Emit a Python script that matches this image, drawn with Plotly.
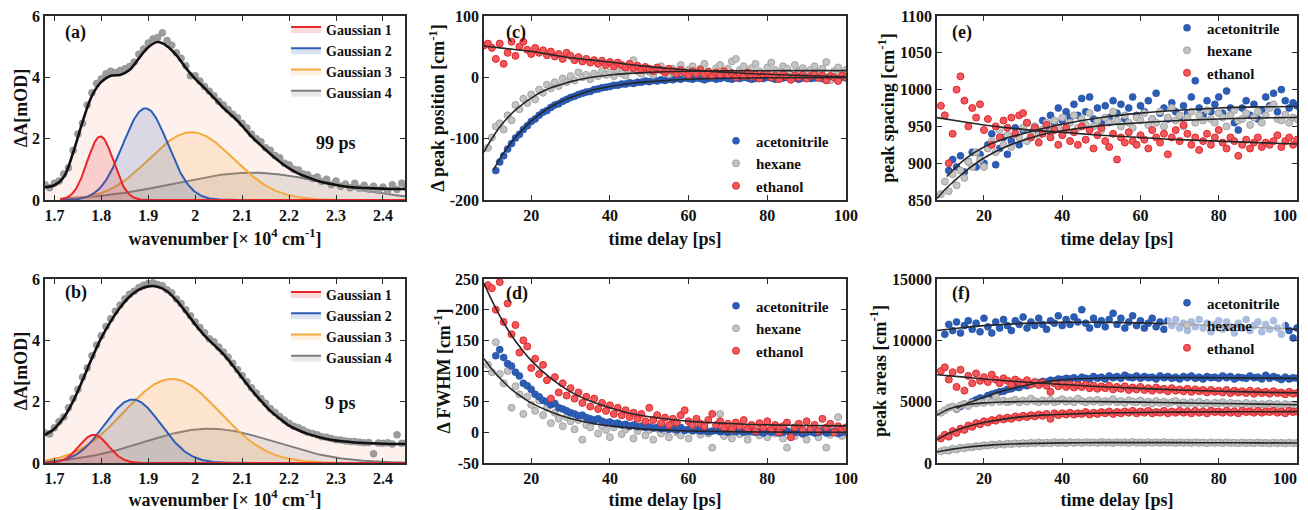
import numpy as np
import plotly.graph_objects as go

# ---------------------------------------------------------------- data
# (a) 99 ps and (b) 9 ps transient spectra, wavenumber in 1e4 cm^-1
wn = [round(1.68 + 0.01 * i, 2) for i in range(78)]          # 1.68 .. 2.45
wn_fit = [round(1.68 + 0.02 * i, 2) for i in range(40)]      # 1.68 .. 2.46

a_data = [0.50, 0.40, 0.55, 0.62, 0.85, 1.05, 1.62, 2.15, 2.50, 3.10,
          3.50, 3.80, 3.95, 4.12, 4.20, 4.15, 4.22, 4.28, 4.35, 4.50,
          4.75, 4.92, 5.12, 5.25, 5.30, 5.45, 5.20, 5.05, 4.80, 4.62,
          4.38, 4.05, 4.05, 3.88, 3.70, 3.55, 3.40, 3.22, 3.10, 2.95,
          2.80, 2.68, 2.50, 2.35, 2.15, 2.00, 1.90, 1.70, 1.62, 1.45,
          1.38, 1.20, 1.15, 1.00, 0.98, 0.85, 0.82, 0.70, 0.75, 0.60,
          0.68, 0.50, 0.62, 0.45, 0.52, 0.40, 0.55, 0.38, 0.48, 0.35,
          0.45, 0.32, 0.42, 0.30, 0.50, 0.34, 0.55, 0.40]
a_fit = [0.42, 0.48, 0.75, 1.55, 2.55, 3.40, 3.85, 4.05, 4.08, 4.24,
         4.62, 4.98, 5.15, 5.02, 4.72, 4.31, 3.95, 3.65, 3.33, 3.00,
         2.73, 2.42, 2.07, 1.78, 1.50, 1.25, 1.03, 0.86, 0.74, 0.63,
         0.55, 0.49, 0.44, 0.41, 0.39, 0.38, 0.37, 0.36, 0.36, 0.36]
b_data = [0.98, 0.95, 1.15, 1.35, 1.50, 1.80, 2.10, 2.40, 2.80, 3.10,
          3.50, 3.85, 4.15, 4.45, 4.70, 4.95, 5.15, 5.35, 5.50, 5.60,
          5.72, 5.80, 5.85, 5.88, 5.82, 5.78, 5.65, 5.55, 5.35, 5.20,
          5.00, 4.80, 4.60, 4.42, 4.25, 4.05, 3.95, 3.78, 3.62, 3.45,
          3.25, 3.05, 2.85, 2.65, 2.45, 2.28, 2.10, 1.95, 1.78, 1.65,
          1.52, 1.40, 1.30, 1.20, 1.15, 1.08, 1.00, 0.96, 0.92, 0.86,
          0.84, 0.80, 0.76, 0.75, 0.72, 0.70, 0.70, 0.68, 0.66, 0.67,
          0.30, 0.65, 0.64, 0.66, 0.62, 0.92, 0.64, 0.66]
b_fit = [0.92, 1.12, 1.48, 2.02, 2.70, 3.42, 4.08, 4.62, 5.07, 5.42,
         5.65, 5.76, 5.75, 5.60, 5.30, 4.92, 4.52, 4.15, 3.85, 3.55,
         3.18, 2.78, 2.38, 2.03, 1.70, 1.45, 1.22, 1.07, 0.95, 0.86,
         0.78, 0.73, 0.70, 0.67, 0.65, 0.64, 0.63, 0.62, 0.62, 0.62]

gauss_names = ["Gaussian 1", "Gaussian 2", "Gaussian 3", "Gaussian 4"]
# (centre, amplitude, sigma) of each fitted Gaussian component
a_centre = [1.798, 1.894, 1.992, 2.120]
a_amp = [2.07, 2.99, 2.21, 0.89]
a_sigma = [0.028, 0.048, 0.090, 0.165]
b_centre = [1.784, 1.867, 1.950, 2.030]
b_amp = [0.92, 2.07, 2.74, 1.12]
b_sigma = [0.031, 0.060, 0.102, 0.140]

# (c)-(f) time traces, time delay in ps
t8 = list(range(8, 101))
t9 = list(range(9, 101))
t10 = list(range(10, 101))
t11 = list(range(11, 101))
t13 = list(range(13, 101))

c_acn = [-152, -138, -128, -117, -108, -99, -93, -85, -79, -72,
         -68, -62, -57, -54, -49, -45, -43, -39, -36, -33,
         -31, -28, -26, -24, -23, -20, -19, -17, -16, -15,
         -13, -13, -11, -11, -9, -10, -8, -8, -6, -7,
         -5, -6, -4, -5, -3, -4, -2, -3, -1, -2,
         -3, -1, -2, -4, -2, -1, -3, -2, 0, -2,
         -3, -1, -2, 0, -1, -3, -2, -1, -2, 0,
         -1, -3, -2, -1, 0, -2, -1, -3, -1, 0,
         -2, -1, 0, -2, -1, 0, -1, -2, 0, -1]
c_hex = [-115, -98,
         -80, -75, -85, -62, -70, -45, -52, -35, -42, -28,
         -36, -20, -25, -12, -18, -8, -14, -2, -8, 2,
         -5, 8, 0, 4, -3, 6, 2, 10, 4, 8,
         2, 12, 6, 3, 14, 28, 10, 6, 16, 9,
         4, 12, 18, 8, 5, 14, 10, 20, 7, 12,
         18, 8, 14, 22, 10, 6, 15, 20, 9, 14,
         26, 30, 12, 18, 8, 15, 22, 10, 5, 16,
         24, 12, 8, 18, 14, 4, 20, 10, 15, 6,
         12, 18, 8, 14, 25, -5, 10, 16, 6, 12]
c_eth = [52, 55, 48,
         30, 55, 22, 40, 58, 35, 50, 58, 45, 38,
         48, 40, 44, 36, 42, 34, 38, 30, 40, 35,
         28, 33, 26, 30, 24, 28, 22, 27, 20, 25,
         18, 24, 20, 16, 22, 15, 19, 12, 17, 14,
         10, 16, 12, 8, 14, 10, 6, 12, 8, 4,
         10, 6, 12, 5, 9, 2, 8, 4, 10, 3,
         7, 0, 6, 2, 8, 1, 5, -2, 4, 6,
         0, 3, -3, 5, 1, -4, 3, 0, 4, -2,
         2, 5, -1, 3, -5, 2, 0, -6, 3, 0]
c_fit_acn_t = [10.5, 12, 14, 16, 18, 20, 22, 25, 28, 30, 35, 40, 45, 50, 55, 60, 70, 80, 90, 100]
c_fit_acn = [-150, -133, -114, -98, -84, -71, -61, -48, -38, -33, -22, -15, -10, -7, -4.7, -3.2, -1.5, -0.8, -0.4, -0.2]
c_fit_hex_t = [8, 9, 10, 12, 14, 16, 18, 20, 22, 25, 28, 30, 35, 40, 45, 50, 60, 70, 80, 90, 100]
c_fit_hex = [-122, -110, -100, -81, -66, -53, -43, -34, -26, -17, -11, -7, -0.4, 3.7, 6.4, 8.1, 9.8, 10.5, 10.8, 10.9, 11]
c_fit_eth_t = [8, 10, 15, 20, 25, 30, 35, 40, 45, 50, 55, 60, 65, 70, 75, 80, 85, 90, 95, 100]
c_fit_eth = [51, 49.5, 46, 42, 37, 32, 28.5, 25, 21, 17.5, 14.5, 12, 10, 8, 6.3, 5, 3.8, 2.8, 1.8, 1]

d_acn = [125, 135, 122, 112, 108, 98, 92, 80, 76, 70,
         62, 58, 52, 50, 45, 47, 40, 38, 35, 32,
         30, 27, 28, 24, 22, 20, 22, 18, 16, 17,
         14, 15, 12, 13, 10, 12, 9, 10, 8, 9,
         7, 8, 6, 7, 5, 6, 4, 8, 3, 5,
         3, 4, 2, 3, 1, 2, 3, 1, 2, 0,
         2, 1, 3, 0, 1, 2, 0, 1, -1, 2,
         0, 1, -1, 0, 2, -1, 0, 1, -2, 0,
         1, -1, 0, 2, -1, 0, 1, -2, 0, 1]
d_hex = [110, 98,
         147, 95, 80, 100, 40, 75, 62, 30, 58, 45,
         35, 52, 28, 40, 15, 32, 22, 10, 25, 18,
         5, 20, -12, 12, 8, 18, -2, 10, 4, -8,
         8, 14, -3, 5, 10, -10, 2, 8, -5, 4,
         -12, 6, -2, 3, -8, 10, 0, -5, 4, -10,
         2, 6, -4, 8, -2, -25, 5, 30, -6, 2,
         -10, 4, -3, 8, -12, 0, 6, -5, 2, -8,
         4, -2, 8, -10, -25, 2, -6, 5, -3, -12,
         4, 0, -8, 6, -25, -4, 3, 25, -6, 2]
d_eth = [240, 235,
         200, 245, 180, 210, 160, 175, 130, 150, 140, 105,
         120, 95, 110, 85, 55, 90, 65, 80, 60, 72,
         55, 65, 48, 58, 42, 55, 38, 48, 35, 44,
         30, 40, 28, 36, 25, 32, 22, 30, 18, 40,
         20, 28, 15, 24, 12, 22, 16, 28, 36, 18,
         12, 22, 14, 10, 20, 30, 12, 18, 8, 14,
         5, 16, 10, 20, 6, 12, 2, 15, 8, 18,
         5, 12, 0, 10, 16, -8, 8, 14, 4, 18,
         6, 12, 2, 22, 8, 14, 0, 10, 4, 8]
d_fit_t = [8, 10, 12, 15, 18, 20, 25, 30, 35, 40, 45, 50, 60, 70, 80, 90, 100]
d_fit_eth = [243, 215, 190, 158, 132, 117, 88, 66, 51, 40, 31, 25.5, 18, 14.3, 12.2, 11.2, 10.6]
d_fit_hex = [120, 103, 88.5, 70, 56, 48, 33, 22.5, 15.3, 10.5, 7.2, 4.9, 2.3, 1.1, 0.5, 0.2, 0.1]

e_acn = [890, 905, 895, 910, 888, 902, 915, 895, 912, 900,
         925, 940, 898, 920, 935, 912, 930, 948, 925, 945,
         955, 935, 950, 942, 958, 948, 965, 955, 975, 958,
         970, 962, 980, 965, 988, 970, 990, 960, 975, 955,
         978, 962, 985, 968, 980, 960, 975, 990, 965, 978,
         970, 985, 960, 995, 968, 975, 960, 982, 970, 962,
         978, 968, 990, 1012, 975, 965, 985, 970, 980, 990,
         968, 998, 975, 955, 945, 975, 985, 965, 980, 960,
         972, 990, 978, 995, 970, 1000, 985, 975, 982, 978]
e_hex = [858, 875,
         862, 885, 870, 890, 880, 902, 895, 915, 905, 895,
         920, 930, 915, 945, 925, 938, 922, 940, 935, 948,
         930, 942, 950, 938, 946, 955, 942, 958, 948, 962,
         945, 955, 965, 948, 960, 952, 968, 950, 958, 945,
         962, 955, 970, 958, 950, 965, 955, 948, 962, 958,
         968, 952, 960, 955, 970, 950, 962, 975, 958, 965,
         950, 962, 970, 955, 965, 958, 972, 960, 955, 968,
         962, 950, 965, 972, 958, 960, 968, 952, 962, 970,
         955, 965, 975, 980, 960, 958, 966, 955, 962, 960]
e_eth = [978, 965,
         900, 940, 1000, 1018, 985, 950, 975, 962, 980, 945,
         960, 925, 950, 935, 958, 948, 962, 940, 965, 968,
         955, 935, 948, 928, 940, 952, 935, 945, 925, 938,
         948, 930, 942, 925, 950, 932, 945, 920, 938, 948,
         930, 922, 940, 905, 935, 928, 942, 930, 925, 938,
         932, 920, 945, 935, 928, 940, 912, 935, 945, 930,
         952, 940, 925, 935, 918, 930, 940, 925, 935, 945,
         928, 920, 935, 930, 910, 925, 932, 920, 928, 935,
         922, 928, 925, 930, 938, 922, 930, 935, 925, 932]
e_fit_acn_t = [10.5, 15, 20, 25, 30, 35, 40, 50, 60, 70, 80, 90, 100]
e_fit_acn = [882, 905, 922, 933, 940, 947, 953, 962, 968, 972, 975, 976.5, 977]
e_fit_hex_t = [8, 10, 12, 15, 20, 25, 30, 35, 40, 50, 60, 70, 80, 90, 100]
e_fit_hex = [852, 864, 874, 888, 907, 921, 931, 939, 944, 951, 955, 958, 960, 961.5, 962]
e_fit_eth_t = [8, 15, 20, 30, 40, 50, 60, 70, 80, 90, 100]
e_fit_eth = [962, 956, 952, 946, 942, 938, 935, 932, 930, 928, 926]

f_acn_hi = [10500,
            11300, 10800, 11500, 10600, 11200, 11600, 10900, 11400, 10700, 11800,
            11100, 10600, 11500, 11000, 11700, 11200, 10800, 11600, 11300, 11900,
            11000, 11500, 11200, 11800, 11300, 10900, 11600, 11400, 12000, 11200,
            11700, 11300, 11900, 11500, 12500, 11400, 11000, 11800, 11300, 11600,
            11100, 11700, 12200, 11300, 11800, 11000, 11500, 12000, 11200, 11600,
            11000, 11400, 11800, 11100, 11500, 10900, 11600, 11200, 11700, 11000,
            11400, 10800, 11500, 11100, 11700, 11000, 11400, 10700, 11300, 11600,
            10900, 11500, 11100, 10600, 11400, 11000, 11700, 10800, 11200, 11500,
            10700, 11300, 10900, 11600, 11000, 10500, 11200, 10800, 10200, 11000]
f_acn_lo = [4400, 4600, 4800, 4700, 5000, 5150, 5300, 5250,
            5500, 5600, 5700, 5800, 5850, 6000, 6050, 6200, 6150, 6350,
            6300, 6450, 6500, 6550, 6650, 6600, 6750, 6700, 6850, 6800,
            6900, 6850, 6950, 6800, 7000, 6900, 6850, 7050, 6900, 7000,
            6850, 7100, 6950, 7050, 6900, 7150, 7000, 6950, 7100, 6900,
            7050, 6950, 7000, 6850, 7100, 6950, 7050, 6900, 7000, 6850,
            7050, 6950, 7100, 6900, 7000, 6850, 7050, 6950, 7000, 6900,
            7100, 6950, 7050, 6850, 7000, 6950, 6900, 7100, 6950, 7000,
            6850, 7150, 6900, 7050, 6950, 6800, 7000, 6850, 6950, 6900]
f_eth_hi = [7500, 7800,
            6800, 7400, 6200, 7600, 5900, 7100, 6500, 7300, 6700, 7000,
            6600, 7200, 6800, 6500, 6900, 6700, 6400, 6800, 6600, 6500,
            6750, 6400, 6600, 6350, 6550, 6300, 5800, 6500, 6250, 6450,
            6200, 6400, 6150, 6350, 6200, 6400, 6100, 6300, 6050, 6250,
            6100, 6300, 6000, 6200, 6050, 6250, 5950, 6150, 6000, 6200,
            5950, 6100, 5900, 6150, 5950, 6050, 5850, 6100, 5900, 6000,
            5850, 6050, 5800, 6000, 5850, 5950, 5750, 5950, 5800, 5900,
            5750, 5950, 5700, 5900, 5750, 5850, 5700, 5900, 5650, 5850,
            5700, 5800, 5650, 5850, 5700, 5750, 5600, 5800, 5650, 5700]
f_hex_hi = [4100, 4300,
            4500, 4600, 4450, 4700, 4800, 4650, 4900, 4850, 5000, 4900,
            5100, 4950, 5400, 5000, 5100, 4950, 5050, 5150, 4950, 5100,
            5000, 5250, 5050, 4950, 5100, 5000, 5150, 4950, 5050, 5200,
            5000, 5100, 4950, 5250, 5050, 4950, 5100, 5000, 5150, 4950,
            5050, 5000, 5200, 4950, 5050, 4900, 5100, 5000, 4950, 5100,
            4900, 5000, 4850, 5050, 4900, 5000, 4850, 4950, 5050, 4850,
            4950, 4800, 4950, 4850, 5000, 4800, 4900, 4750, 4900, 4850,
            4950, 4750, 4900, 4800, 4850, 4700, 4900, 4750, 4850, 4700,
            4800, 4750, 4850, 4700, 4800, 4650, 4800, 4700, 4750, 4650]
f_eth_lo = [2000, 2300,
            2150, 2600, 2450, 2800, 2700, 3050, 2950, 3250, 3150, 3400,
            3300, 3500, 3450, 3650, 3550, 3700, 3600, 3800, 3700, 3850,
            3750, 3900, 3800, 3950, 3850, 4000, 3600, 4050, 3900, 4050,
            3950, 4100, 3950, 4050, 4000, 4150, 3950, 4100, 4000, 4150,
            4050, 4200, 4000, 4150, 4050, 4200, 4100, 4250, 4050, 4200,
            4100, 4250, 4050, 4150, 4100, 4250, 4050, 4200, 4100, 4250,
            4100, 4200, 4050, 4250, 4100, 4200, 4050, 4250, 4150, 4200,
            4100, 4250, 4100, 4200, 4050, 4250, 4150, 4200, 4100, 4250,
            4100, 4200, 4150, 4250, 4100, 4200, 4050, 4250, 4150, 4200]
f_hex_lo = [950, 1050,
            1000, 1150, 1100, 1250, 1200, 1300, 1280, 1380, 1350, 1450,
            1420, 1500, 1460, 1540, 1500, 1580, 1530, 1600, 1560, 1620,
            1580, 1650, 1600, 1670, 1610, 1660, 1620, 1690, 1630, 1680,
            1620, 1700, 1640, 1690, 1630, 1700, 1650, 1680, 1640, 1710,
            1650, 1690, 1630, 1700, 1660, 1690, 1640, 1710, 1650, 1680,
            1630, 1700, 1650, 1690, 1640, 1700, 1650, 1680, 1630, 1690,
            1640, 1680, 1630, 1690, 1640, 1670, 1620, 1680, 1630, 1670,
            1620, 1680, 1630, 1660, 1610, 1670, 1620, 1660, 1610, 1670,
            1620, 1650, 1600, 1660, 1610, 1650, 1600, 1660, 1610, 1640]
f_fit_acn_hi_t = [8, 15, 20, 30, 40, 50, 60, 70, 80, 90, 100]
f_fit_acn_hi = [10800, 11050, 11200, 11380, 11460, 11470, 11420, 11330, 11200, 11050, 10900]
f_fit_acn_lo_t = [13, 15, 20, 25, 30, 35, 40, 50, 60, 70, 80, 90, 100]
f_fit_acn_lo = [4450, 4750, 5350, 5900, 6280, 6580, 6780, 6930, 6970, 6970, 6950, 6930, 6900]
f_fit_eth_hi_t = [8, 15, 20, 30, 40, 50, 60, 70, 80, 90, 100]
f_fit_eth_hi = [7200, 7000, 6850, 6600, 6400, 6220, 6080, 5950, 5850, 5780, 5720]
f_fit_hex_hi_t = [8, 10, 12, 15, 20, 25, 30, 40, 50, 60, 70, 80, 90, 100]
f_fit_hex_hi = [3900, 4250, 4500, 4720, 4900, 4980, 5010, 5020, 5000, 4960, 4900, 4850, 4800, 4750]
f_fit_eth_lo_t = [8, 10, 12, 15, 20, 25, 30, 35, 40, 50, 60, 70, 80, 90, 100]
f_fit_eth_lo = [1900, 2250, 2550, 2900, 3300, 3580, 3780, 3900, 3980, 4070, 4120, 4150, 4170, 4180, 4190]
f_fit_hex_lo_t = [8, 10, 12, 15, 20, 25, 30, 40, 50, 60, 70, 80, 90, 100]
f_fit_hex_lo = [900, 1020, 1130, 1260, 1420, 1520, 1580, 1640, 1660, 1665, 1660, 1650, 1640, 1630]

solvents = ["acetonitrile", "hexane", "ethanol"]
wn_ticks = [1.7, 1.8, 1.9, 2.0, 2.1, 2.2, 2.3, 2.4]
t_ticks = [20, 40, 60, 80, 100]

# ---------------------------------------------------------------- style
FONT = "Liberation Serif"
INK = "#111111"
BLUE = "#2C5DB7"
RED = "#E8262B"
ORANGE = "#F4A93A"
G4 = "#7E7E7E"
g_colors = [RED, BLUE, ORANGE, G4]
g_fills = ["rgba(232,38,43,0.17)", "rgba(44,93,183,0.17)",
           "rgba(244,169,58,0.17)", "rgba(110,110,110,0.15)"]
dot_style = {
    "acetonitrile": dict(color="#2C5DB7", line=dict(color="#1E4A9E", width=0.6)),
    "hexane": dict(color="#C4C4C4", line=dict(color="#A3A3A3", width=1)),
    "ethanol": dict(color="#F2585B", line=dict(color="#E0282C", width=1)),
}
FIT = "#262626"
DOT = 7

fig = go.Figure()


def gauss_curve(x, c, a, s):
    return a * np.exp(-0.5 * ((x - c) / s) ** 2)


def spectrum_panel(xa, ya, leg, data, fit, centres, amps, sigmas, gstart):
    # pale fill under the total fit
    fig.add_trace(go.Scatter(x=wn_fit, y=fit, mode="lines", line=dict(width=0, shape="spline"),
                             fill="tozeroy", fillcolor="rgba(250,205,190,0.28)",
                             showlegend=False, hoverinfo="skip", xaxis=xa, yaxis=ya))
    gx = np.linspace(gstart, 2.447, 400)
    for i in [3, 2, 1, 0]:
        fig.add_trace(go.Scatter(x=gx, y=gauss_curve(gx, centres[i], amps[i], sigmas[i]),
                                 mode="lines", name=gauss_names[i],
                                 line=dict(color=g_colors[i], width=2),
                                 fill="tozeroy", fillcolor=g_fills[i],
                                 legend=leg, legendrank=i + 1, xaxis=xa, yaxis=ya))
    fig.add_trace(go.Scatter(x=wn, y=data, mode="markers",
                             marker=dict(size=7, color="#9C9C9C", line=dict(color="#8A8A8A", width=0.5)),
                             showlegend=False, xaxis=xa, yaxis=ya))
    fig.add_trace(go.Scatter(x=wn_fit, y=fit, mode="lines", line=dict(color=INK, width=2.6, shape="spline"),
                             showlegend=False, xaxis=xa, yaxis=ya))


spectrum_panel("x", "y", "legend", a_data, a_fit, a_centre, a_amp, a_sigma, 1.712)
spectrum_panel("x2", "y2", "legend2", b_data, b_fit, b_centre, b_amp, b_sigma, 1.681)


def dots(xa, ya, leg, t, y, solvent, show=True):
    fig.add_trace(go.Scatter(x=t, y=y, mode="markers", name=solvent,
                             marker=dict(size=DOT, **dot_style[solvent]),
                             legend=leg, showlegend=show, legendrank=solvents.index(solvent) + 1,
                             xaxis=xa, yaxis=ya))


def fitline(xa, ya, t, y):
    fig.add_trace(go.Scatter(x=t, y=y, mode="lines", line=dict(color=FIT, width=1.6, shape="spline"),
                             showlegend=False, xaxis=xa, yaxis=ya))


# (c)
dots("x3", "y3", "legend3", t11, c_acn, "acetonitrile")
dots("x3", "y3", "legend3", t9, c_hex, "hexane")
dots("x3", "y3", "legend3", t8, c_eth, "ethanol")
fitline("x3", "y3", c_fit_acn_t, c_fit_acn)
fitline("x3", "y3", c_fit_hex_t, c_fit_hex)
fitline("x3", "y3", c_fit_eth_t, c_fit_eth)
# (d)
dots("x4", "y4", "legend4", t9, d_hex, "hexane")
dots("x4", "y4", "legend4", t11, d_acn, "acetonitrile")
dots("x4", "y4", "legend4", t9, d_eth, "ethanol")
fitline("x4", "y4", d_fit_t, d_fit_hex)
fitline("x4", "y4", d_fit_t, d_fit_eth)
# (e)
dots("x5", "y5", "legend5", t11, e_acn, "acetonitrile")
dots("x5", "y5", "legend5", t9, e_hex, "hexane")
dots("x5", "y5", "legend5", t9, e_eth, "ethanol")
fitline("x5", "y5", e_fit_acn_t, e_fit_acn)
fitline("x5", "y5", e_fit_hex_t, e_fit_hex)
fitline("x5", "y5", e_fit_eth_t, e_fit_eth)
# (f)
dots("x6", "y6", "legend6", t10, f_acn_hi, "acetonitrile")
dots("x6", "y6", "legend6", t13, f_acn_lo, "acetonitrile", show=False)
dots("x6", "y6", "legend6", t9, f_hex_hi, "hexane")
dots("x6", "y6", "legend6", t9, f_hex_lo, "hexane", show=False)
dots("x6", "y6", "legend6", t9, f_eth_hi, "ethanol")
dots("x6", "y6", "legend6", t9, f_eth_lo, "ethanol", show=False)
for tt, yy in [(f_fit_acn_hi_t, f_fit_acn_hi), (f_fit_acn_lo_t, f_fit_acn_lo),
               (f_fit_eth_hi_t, f_fit_eth_hi), (f_fit_hex_hi_t, f_fit_hex_hi),
               (f_fit_eth_lo_t, f_fit_eth_lo), (f_fit_hex_lo_t, f_fit_hex_lo)]:
    fitline("x6", "y6", tt, yy)

# ---------------------------------------------------------------- layout
# The page body has an 8 px margin, so every target pixel position is
# shifted by that offset.
OFF = 8
W, H = 1308 - OFF, 510 - OFF
cols = [(45, 405), (484, 846), (937, 1297)]
rows = [(16, 200), (279, 463)]


def px(x):
    return (x - OFF) / W


def py(y):
    return 1 - (y - OFF) / H


def xdom(c):
    return [px(cols[c][0]), px(cols[c][1])]


def ydom(r):
    return [py(rows[r][1]), py(rows[r][0])]


tickfont = dict(family=FONT, size=16, color=INK, weight="bold")
titlefont = dict(family=FONT, size=18, color=INK, weight="bold")


def axis(dom, rng, tv, tt, title, anchor, standoff):
    return dict(domain=dom, range=rng, tickvals=tv, ticktext=tt, showline=True, linecolor="#2a2a2a",
                linewidth=1.6, mirror="allticks", ticks="inside", ticklen=5, tickwidth=1.4,
                tickcolor="#2a2a2a", showgrid=False, zeroline=False, tickfont=tickfont,
                automargin=False, ticklabeloverflow="allow",
                title=dict(text=title, font=titlefont, standoff=standoff), anchor=anchor)


wn_title = "wavenumber [× 10<sup>4</sup> cm<sup>-1</sup>]"
td_title = "time delay [ps]"
tlab = [str(v) for v in t_ticks]
# right-hand column: the last label is pulled inward so it stays on the page
tlab_right = tlab[:-1] + [tlab[-1] + "\u00a0" * 6]
wlab = ["1.7", "1.8", "1.9", "2", "2.1", "2.2", "2.3", "2.4"]

layout = dict(width=W, height=H, margin=dict(l=0, r=0, t=0, b=0, autoexpand=False),
              plot_bgcolor="white", paper_bgcolor="white",
              font=dict(family=FONT, color=INK))
specs = [
    ("", 0, 0, [1.68, 2.447], wn_ticks, wlab, wn_title, [0, 6], [0, 2, 4, 6], ["0", "2", "4", "6"], "ΔA[mOD]", 0),
    ("2", 0, 1, [1.68, 2.447], wn_ticks, wlab, wn_title, [0, 6], [0, 2, 4, 6], ["0", "2", "4", "6"], "ΔA[mOD]", 0),
    ("3", 1, 0, [8, 100], t_ticks, tlab, td_title, [-200, 100], [-200, -100, 0, 100],
     ["-200", "-100", "0", "100"], "Δ peak position [cm<sup>-1</sup>]", 0),
    ("4", 1, 1, [8, 100], t_ticks, tlab, td_title, [-50, 250], [-50, 0, 50, 100, 150, 200, 250],
     ["-50", "0", "50", "100", "150", "200", "250"], "Δ FWHM [cm<sup>-1</sup>]", 0),
    ("5", 2, 0, [8, 100], t_ticks, tlab_right, td_title, [850, 1100], [850, 900, 950, 1000, 1050, 1100],
     ["850", "900", "950", "1000", "1050", "1100"], "peak spacing [cm<sup>-1</sup>]", 1),
    ("6", 2, 1, [8, 100], t_ticks, tlab_right, td_title, [0, 15000], [0, 5000, 10000, 15000],
     ["0", "5000", "10000", "15000"], "peak areas [cm<sup>-1</sup>]", 1),
]
for sfx, c, r, xr, xtv, xtt, xt, yr, ytv, ytt, yt, ystand in specs:
    layout["xaxis" + sfx] = axis(xdom(c), xr, xtv, xtt, xt, "y" + sfx, 9)
    layout["yaxis" + sfx] = axis(ydom(r), yr, ytv, ytt, yt, "x" + sfx, ystand)

legfont14 = dict(family=FONT, size=14, color=INK, weight="bold")
legfont15 = dict(family=FONT, size=15, color=INK, weight="bold")


def legend(xp, yp, font, bg="rgba(255,255,255,0)"):
    return dict(x=px(xp), y=py(yp), xanchor="left", yanchor="top", font=font,
                bgcolor=bg, borderwidth=0, traceorder="normal", itemclick=False)


layout["legend"] = legend(286, 13.5, legfont14)
layout["legend2"] = legend(286, 278.5, legfont14)
layout["legend3"] = legend(716, 124.5, legfont15)
layout["legend4"] = legend(716, 289.5, legfont15)
layout["legend5"] = legend(1167, 11.5, legfont15)
layout["legend6"] = legend(1167, 286.5, legfont15, bg="rgba(255,255,255,0.6)")

labfont = dict(family=FONT, size=18, color=INK, weight="bold")
ann = []
for sfx, lab, xd, yd in [("", "(a)", 0.05, 0.913), ("2", "(b)", 0.05, 0.925), ("3", "(c)", 0.055, 0.913),
                         ("4", "(d)", 0.055, 0.923), ("5", "(e)", 0.036, 0.913), ("6", "(f)", 0.036, 0.919)]:
    ann.append(dict(text=lab, xref=("x" + sfx) + " domain", yref=("y" + sfx) + " domain", x=xd, y=yd,
                    xanchor="left", yanchor="middle", showarrow=False, font=labfont))
ann.append(dict(text="99 ps", xref="x", yref="y", x=2.30, y=1.86, showarrow=False, font=labfont))
ann.append(dict(text="9 ps", xref="x2", yref="y2", x=2.31, y=1.95, showarrow=False, font=labfont))
layout["annotations"] = ann

fig.update_layout(**layout)
fig.write_html("out.html")
